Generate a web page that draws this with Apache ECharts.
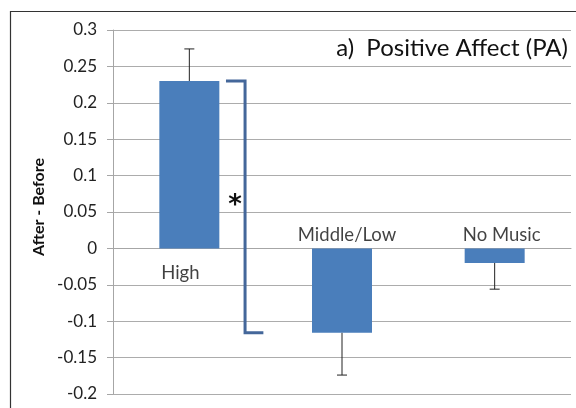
<!DOCTYPE html>
<html>
<head>
<meta charset="utf-8">
<script src="https://cdn.jsdelivr.net/npm/echarts@6/dist/echarts.min.js"></script>
<style>
  html, body { margin: 0; padding: 0; background: #fff; }
  #chart { width: 576px; height: 408px; }
</style>
</head>
<body>
<div id="chart"></div>
<script>
// Change in positive affect (after minus before), by music group
const categories = ['High', 'Middle/Low', 'No Music'];
const meanChange = [0.23, -0.116, -0.020];
const errorSize = [0.044, 0.058, 0.036];
const yTicks = { min: -0.2, max: 0.3, step: 0.05 };
// significance bracket between the first two groups
const bracketPair = [0, 1];
const bracketMark = '*';
const panelTitle = 'a)  Positive Affect (PA)';
const yTitle = 'After - Before';

const FONT = 'Lato, "Open Sans", sans-serif';
const barColor = '#4A7EBB';
const bracketColor = '#44679A';

function fmtTick(v) {
  const r = Math.round(v * 100) / 100;
  return String(r);
}

const chart = echarts.init(document.getElementById('chart'), null, { renderer: 'canvas' });

// error bar: stem from the bar end outwards plus a cap
function renderError(params, api) {
  const i = api.value(0);
  const v = api.value(1);
  const e = api.value(2);
  const end = v >= 0 ? v + e : v - e;
  const p0 = api.coord([i, v]);
  const p1 = api.coord([i, end]);
  const cap = 5;
  return {
    type: 'group',
    children: [
      { type: 'line', shape: { x1: p0[0], y1: p0[1], x2: p1[0], y2: p1[1] },
        style: { stroke: '#222', lineWidth: 1 } },
      { type: 'line', shape: { x1: p1[0] - cap, y1: p1[1], x2: p1[0] + cap, y2: p1[1] },
        style: { stroke: '#222', lineWidth: 1 } }
    ]
  };
}

// bracket joining the ends of two bars, with the significance mark
function renderBracket(params, api) {
  const a = api.value(0);
  const vA = api.value(1);
  const vB = api.value(2);
  const bw = api.size([1, 0])[0];
  const pA = api.coord([a, vA]);
  const pB = api.coord([a, vB]);
  const cx = pA[0];
  const xs = cx + 0.24 * bw;
  const xv = cx + 0.365 * bw;
  const xe = cx + 0.485 * bw;
  const mid = api.coord([a, (vA + vB) / 2]);
  return {
    type: 'group',
    children: [
      { type: 'polyline',
        shape: { points: [[xs, pA[1]], [xv, pA[1]], [xv, pB[1]], [xe, pB[1]]] },
        style: { stroke: bracketColor, lineWidth: 3, fill: null, lineJoin: 'miter' } },
      { type: 'text',
        style: { text: bracketMark, x: cx + 0.30 * bw, y: mid[1] - 1,
                 align: 'center', verticalAlign: 'middle',
                 font: 'bold 26px "DejaVu Sans", sans-serif', fill: '#111' } }
    ]
  };
}

// horizontal nudges for the category names
const nameShift = [-9, 5, 7];

const option = {
  animation: false,
  backgroundColor: '#fff',
  grid: { left: 113, right: 5, top: 30, bottom: 14, containLabel: false },
  graphic: [
    { type: 'rect', shape: { x: 10.5, y: 11.5, width: 620, height: 500 },
      style: { stroke: '#333', lineWidth: 1.2, fill: null }, silent: true },
    { type: 'text', right: 8, top: 36,
      style: { text: panelTitle, font: '24px ' + FONT, fill: '#111' } },
    { type: 'text', left: 31, top: 158, rotation: Math.PI / 2,
      style: { text: yTitle, font: 'bold 16px ' + FONT, fill: '#111' } }
  ],
  xAxis: {
    type: 'category',
    data: categories,
    axisLine: { show: true, lineStyle: { color: '#A6A6A6', width: 1 } },
    axisTick: { show: false },
    axisLabel: { show: false },
    splitLine: { show: false }
  },
  yAxis: {
    type: 'value',
    min: yTicks.min,
    max: yTicks.max,
    interval: yTicks.step,
    axisLine: { show: true, lineStyle: { color: '#A6A6A6', width: 1 } },
    axisTick: { show: true, inside: false, length: 6, lineStyle: { color: '#A6A6A6' } },
    axisLabel: { formatter: fmtTick, fontFamily: FONT, fontSize: 17, color: '#222', margin: 16 },
    splitLine: { show: true, lineStyle: { color: '#ACACAC', width: 1 } }
  },
  series: [
    {
      type: 'bar',
      data: meanChange,
      barWidth: 60,
      itemStyle: { color: barColor },
      z: 2
    },
    {
      type: 'custom',
      renderItem: renderError,
      data: categories.map((c, i) => [i, meanChange[i], errorSize[i]]),
      z: 3
    },
    {
      type: 'custom',
      renderItem: renderBracket,
      data: [[bracketPair[0], meanChange[bracketPair[0]], meanChange[bracketPair[1]]]],
      z: 4
    },
    {
      // category names sit at the zero line, on the side away from the bar
      type: 'scatter',
      symbolSize: 0,
      silent: true,
      data: categories.map((c, i) => ({
        value: [i, 0],
        name: c,
        label: meanChange[i] >= 0
          ? { position: 'bottom', distance: 15, offset: [nameShift[i], 0] }
          : { position: 'top', distance: 4, offset: [nameShift[i], 0] }
      })),
      label: {
        show: true,
        formatter: p => p.name,
        fontFamily: FONT,
        fontSize: 18.5,
        color: '#111'
      },
      z: 5
    }
  ]
};

chart.setOption(option);
</script>
</body>
</html>
